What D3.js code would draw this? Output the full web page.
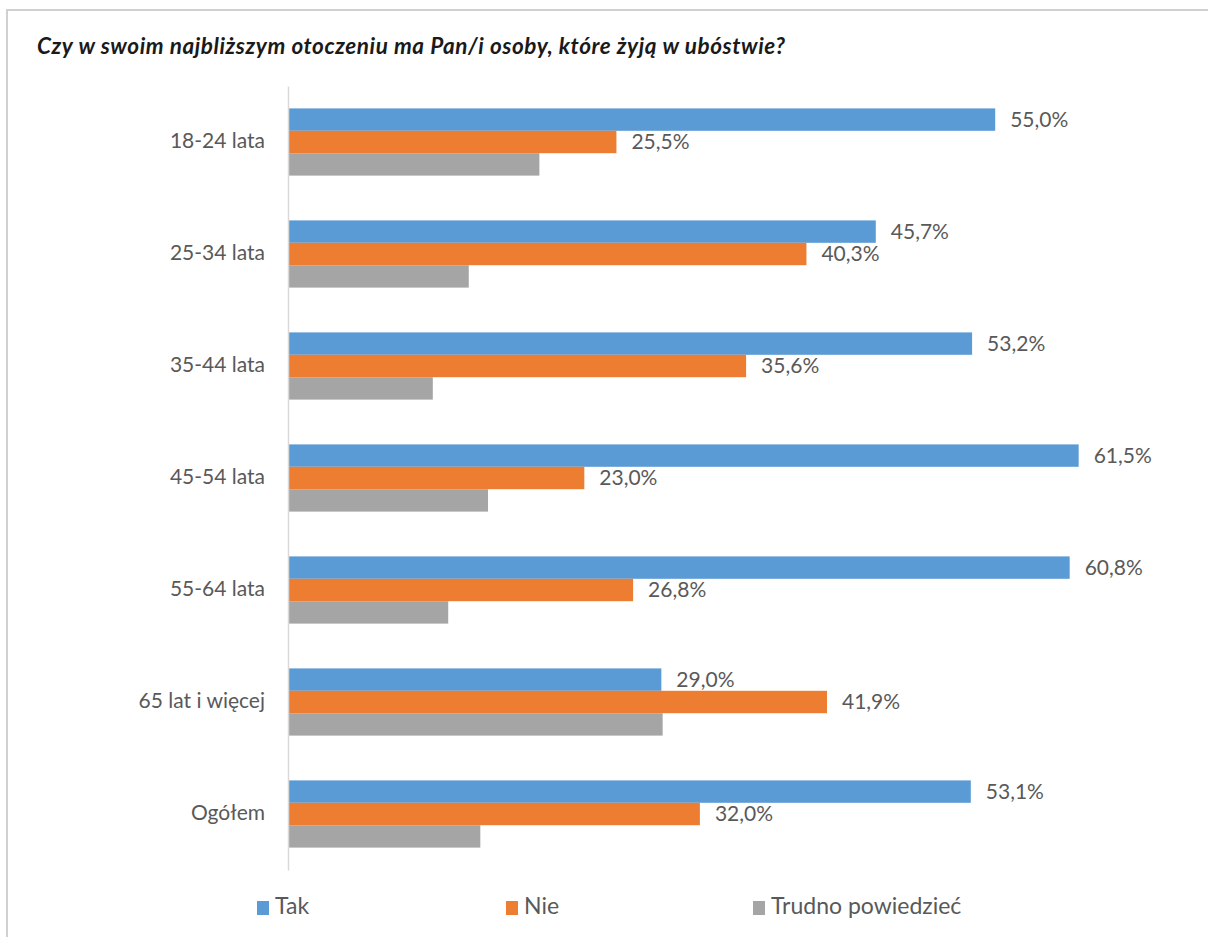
<!DOCTYPE html>
<html><head><meta charset="utf-8">
<script src="https://cdn.jsdelivr.net/npm/d3@7"></script>
<style>
html,body{margin:0;padding:0;background:#fff;}
svg{display:block;}
text{font-family:Lato,"Open Sans",sans-serif;}
</style></head>
<body>
<svg id="chart" width="1208" height="937"></svg>
<script>
const title = "Czy w swoim najbliższym otoczeniu ma Pan/i osoby, które żyją w ubóstwie?";
const categories = ["18-24 lata","25-34 lata","35-44 lata","45-54 lata","55-64 lata","65 lat i więcej","Ogółem"];
const seriesNames = ["Tak","Nie","Trudno powiedzieć"];
const tak = [55.0,45.7,53.2,61.5,60.8,29.0,53.1];
const nie = [25.5,40.3,35.6,23.0,26.8,41.9,32.0];
const trudno = [19.5,14.0,11.2,15.5,12.4,29.1,14.9];
const showLabels = [true,true,false];
const colors = ["#5B9BD5","#ED7D31","#A5A5A5"];

const svg = d3.select("#chart");
const seriesValues = [tak, nie, trudno];

// border
svg.append("rect").attr("x",7).attr("y",10).attr("width",1240).attr("height",960)
  .attr("fill","none").attr("stroke","#d0d0d0").attr("stroke-width",2);

svg.append("text").attr("x",37).attr("y",54)
  .attr("font-size",22.5).attr("font-style","italic").attr("font-weight","bold")
  .attr("textLength",748).attr("lengthAdjust","spacing")
  .attr("fill","#1a1a1a").text(title);

const x = d3.scaleLinear().domain([0,10]).range([289,289+128.4]);
const y = d3.scaleBand().domain(categories).range([86,870]).paddingInner(0.4).paddingOuter(0.2);
const ys = d3.scaleBand().domain(seriesNames).range([0,y.bandwidth()]);

const g = svg.append("g");
categories.forEach((c,i)=>{
  seriesNames.forEach((s,j)=>{
    const v = seriesValues[j][i];
    g.append("rect").attr("x",x(0)).attr("y",y(c)+ys(s))
      .attr("width",x(v)-x(0)).attr("height",ys.bandwidth())
      .attr("fill",colors[j]);
    if(showLabels[j]){
      g.append("text").attr("x",x(v)+15).attr("y",y(c)+ys(s)+ys.bandwidth()/2)
        .attr("dy","0.35em").attr("font-size",21).attr("fill","#595959")
        .text(v.toFixed(1).replace(".",",")+"%");
    }
  });
});

const yAxis = d3.axisLeft(y).tickSize(0).tickPadding(23);
const ag = svg.append("g").attr("transform",`translate(${x(0)-1},0)`).call(yAxis);
ag.select(".domain").attr("stroke","#d9d9d9").attr("stroke-width",1.5);
ag.selectAll("text").attr("font-size",21).attr("fill","#595959")
  .attr("dy","0.3em").attr("font-family","Lato,'Open Sans',sans-serif");

const legendX = [257,506,753];
const lg = svg.append("g");
seriesNames.forEach((s,j)=>{
  lg.append("rect").attr("x",legendX[j]).attr("y",901).attr("width",12).attr("height",14).attr("fill",colors[j]);
  lg.append("text").attr("x",legendX[j]+18).attr("y",914)
    .attr("font-size",23).attr("fill","#595959").text(s);
});
</script>
</body></html>
